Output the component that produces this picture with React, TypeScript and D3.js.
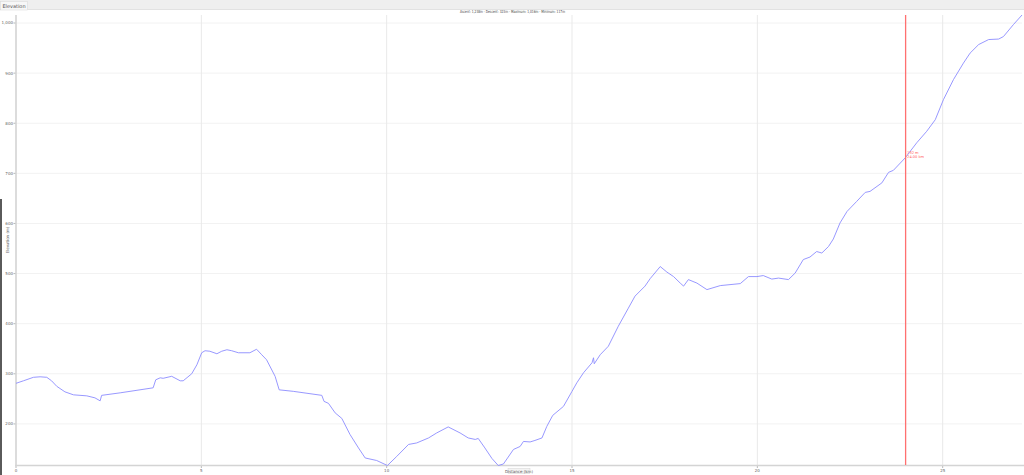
import React from "react";
import * as d3 from "d3";

const distanceKm = [
  0, 0.2, 0.47, 0.65, 0.83, 0.96, 1.1, 1.32, 1.55, 1.91, 2.13, 2.27, 2.31, 2.81, 3.7, 3.77, 3.89, 3.97, 4.2, 4.43, 4.51, 4.74, 4.88,
  5.01, 5.1, 5.23, 5.42, 5.55, 5.69, 5.82, 6.0, 6.31, 6.49, 6.63, 6.76, 6.99, 7.1, 7.48, 8.25, 8.31, 8.43, 8.61, 8.79, 9.01, 9.24,
  9.42, 9.73, 10.02, 10.27, 10.59, 10.81, 11.13, 11.35, 11.66, 11.98, 12.2, 12.39, 12.47, 12.65, 12.84, 13.01, 13.15, 13.42, 13.6,
  13.69, 13.87, 14.0, 14.19, 14.32, 14.48, 14.77, 15.0, 15.13, 15.31, 15.54, 15.58, 15.6, 15.76, 15.98, 16.25, 16.52, 16.7, 16.97,
  17.11, 17.38, 17.56, 17.74, 17.92, 18.01, 18.14, 18.37, 18.64, 19.0, 19.54, 19.76, 19.99, 20.16, 20.39, 20.57, 20.84, 21.02,
  21.24, 21.42, 21.6, 21.74, 21.92, 22.05, 22.23, 22.42, 22.68, 22.91, 23.04, 23.36, 23.54, 23.67, 23.99, 24.3, 24.57, 24.8, 25.02,
  25.29, 25.56, 25.74, 25.97, 26.24, 26.51, 26.64, 26.91, 27.14,
];
const elevationM = [
  281, 286, 293, 294, 293, 286, 275, 264, 258, 256, 252, 246, 257, 262, 272, 288, 292, 291, 295, 286, 286, 300, 318,
  342, 346, 345, 340, 345, 348, 346, 342, 342, 349, 338, 328, 295, 268, 265, 257, 245, 241, 222, 211, 179, 152,
  132, 127, 117, 135, 159, 162, 172, 182, 194, 182, 172, 169, 171, 152, 131, 117, 120, 149, 155,
  165, 164, 167, 172, 195, 217, 235, 265, 282, 302, 322, 332, 320, 338, 355, 395, 431, 455, 475,
  490, 514, 503, 494, 481, 475, 488, 481, 468, 476, 480, 494, 494, 496, 489, 491, 488, 501,
  528, 533, 544, 541, 554, 569, 601, 624, 644, 662, 664, 681, 702, 706, 731, 761, 784, 807, 847,
  887, 920, 940, 957, 967, 968, 973, 997, 1016,
];
const xTicks = [0, 5, 10, 15, 20, 25];
const yTicks = [200, 300, 400, 500, 600, 700, 800, 900, 1000];
const cursorKm = [24.0];
const cursorLabels = ["732 m", "24.00 km"];
const titleText = "Ascent: 1,238m - Descent: 323m - Maximum: 1,016m - Minimum: 117m";
const tabLabel = "Elevation";
const xAxisLabel = "Distance (km)";
const yAxisLabel = "Elevation (m)";

export default function App() {
  const W = 1024, H = 475;
  const x = d3.scaleLinear().domain([0, 27.14]).range([16, 1022]);
  const y = d3.scaleLinear().domain([117, 1016]).range([465.5, 15]);
  const pts = distanceKm.map((d, i) => [d, elevationM[i]] as [number, number]);
  const line = d3.line<[number, number]>().x(d => x(d[0])).y(d => y(d[1]));
  const cx = x(cursorKm[0]);
  const fmt = d3.format(",");
  return (
    <svg width={W} height={H} style={{ position: "absolute", left: 0, top: 0, fontFamily: "DejaVu Sans, sans-serif" }}>
      <rect x={0} y={0} width={W} height={H} fill="#fff" />
      <rect x={0} y={0} width={W} height={9} fill="#efefef" />
      <line x1={0} x2={W} y1={9.5} y2={9.5} stroke="#e2e2e2" />
      <rect x={0.5} y={1.5} width={27} height={8.5} fill="#f7f7f7" stroke="#d8d8d8" strokeWidth={0.5} />
      <text x={14} y={7.8} fontSize={5} textAnchor="middle" fill="#555">{tabLabel}</text>
      <rect x={0} y={199} width={2} height={276} fill="#5a5a5a" />
      <text x={512.5} y={12.5} fontSize={4} textAnchor="middle" fill="#444" textLength={105} lengthAdjust="spacingAndGlyphs">{titleText}</text>
      {yTicks.map(t => (
        <g key={"y" + t}>
          <line x1={16} x2={1022} y1={y(t)} y2={y(t)} stroke="#f2f2f2" strokeWidth={1} />
          <line x1={13.5} x2={16} y1={y(t)} y2={y(t)} stroke="#999" strokeWidth={0.7} />
          <text x={13} y={y(t) + 1.4} fontSize={4} textAnchor="end" fill="#666">{fmt(t)}</text>
        </g>
      ))}
      {xTicks.map(t => (
        <g key={"x" + t}>
          {t > 0 && <line x1={x(t)} x2={x(t)} y1={15} y2={465} stroke="#e9e9e9" strokeWidth={1} />}
          <line x1={x(t)} x2={x(t)} y1={465} y2={468} stroke="#999" strokeWidth={0.7} />
          <text x={x(t)} y={471.5} fontSize={4} textAnchor="middle" fill="#666">{t}</text>
        </g>
      ))}
      <line x1={16} x2={16} y1={15} y2={466} stroke="#d4d4d4" strokeWidth={1.6} />
      <line x1={15} x2={1024} y1={465.5} y2={465.5} stroke="#d4d4d4" strokeWidth={1.6} />
      <path d={line(pts) || ""} fill="none" stroke="#8c8cff" strokeWidth={0.9} />
      <line x1={cx} x2={cx} y1={15} y2={465} stroke="#ff7070" strokeWidth={1.3} />
      <text x={cx + 1.5} y={153.5} fontSize={3.6} fill="#ff5a5a">{cursorLabels[0]}</text>
      <text x={cx + 1.5} y={157.5} fontSize={3.6} fill="#ff5a5a">{cursorLabels[1]}</text>
      <rect x={508} y={468.5} width={22} height={5} fill="#f4f4f4" stroke="#ccc" strokeWidth={0.4} />
      <text x={519} y={472.5} fontSize={4} textAnchor="middle" fill="#555">{xAxisLabel}</text>
      <text transform="translate(8.5,240) rotate(-90)" fontSize={4} textAnchor="middle" fill="#555">{yAxisLabel}</text>
    </svg>
  );
}
